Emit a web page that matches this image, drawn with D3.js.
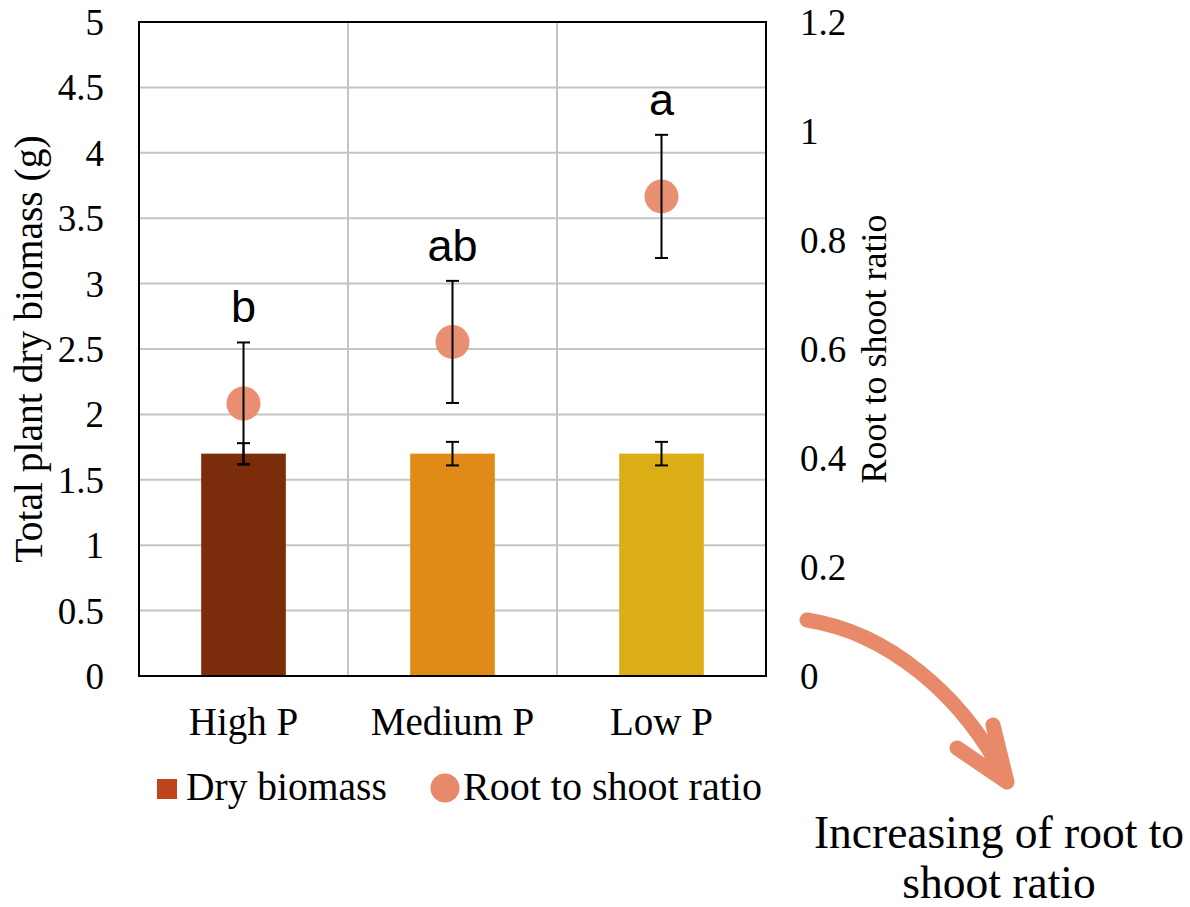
<!DOCTYPE html>
<html>
<head>
<meta charset="utf-8">
<script src="https://cdn.jsdelivr.net/npm/d3@7"></script>
<style>
  body { margin: 0; background: #fff; }
  svg text { fill: #000; }
</style>
</head>
<body>
<div id="graphic"></div>
<script>
// data
const categories = ["High P", "Medium P", "Low P"];
const biomass = [1.7, 1.7, 1.7];
const biomassErr = [0.08, 0.09, 0.09];
const ratio = [0.50, 0.613, 0.88];
const ratioErr = [0.112, 0.112, 0.113];
const letters = ["b", "ab", "a"];
const leftTicks = [0, 0.5, 1, 1.5, 2, 2.5, 3, 3.5, 4, 4.5, 5];
const rightTicks = [0, 0.2, 0.4, 0.6, 0.8, 1, 1.2];
const barColors = ["#7b2d0b", "#e08b17", "#dbae16"];

// set the dimensions and margins of the graph
const margin = {top: 22, right: 424, bottom: 231, left: 139};
const width = 1190 - margin.left - margin.right;
const height = 907 - margin.top - margin.bottom;

const serif = "'Liberation Serif', 'Times New Roman', serif";
const sans = "'Liberation Sans', Arial, sans-serif";
const dotColor = "#e8896a";

const svg = d3.select("#graphic")
    .append("svg")
    .attr("width", 1190)
    .attr("height", 907)
    .append("g")
        .attr("transform", `translate(${margin.left}, ${margin.top})`);

const x = d3.scaleBand().domain(categories).range([0, width]).padding(0);
const bw = x.bandwidth() * 0.405;
const y = d3.scaleLinear().domain([0, 5]).range([height, 0]);
const yR = d3.scaleLinear().domain([0, 1.2]).range([height, 0]);

// gridlines
svg.append("g")
    .selectAll("line")
    .data(leftTicks.slice(1))
    .join("line")
    .attr("x1", 0).attr("x2", width)
    .attr("y1", d => y(d)).attr("y2", d => y(d))
    .style("stroke", "#c4c4c4")
    .attr("stroke-width", 2);

svg.append("g")
    .selectAll("line")
    .data(categories.slice(1))
    .join("line")
    .attr("x1", d => x(d)).attr("x2", d => x(d))
    .attr("y1", 0).attr("y2", height)
    .style("stroke", "#c4c4c4")
    .attr("stroke-width", 2);

// left axis labels
const leftAxis = svg.append("g")
    .call(d3.axisLeft(y).tickValues(leftTicks).tickSize(0).tickPadding(35).tickFormat(d3.format("")));
leftAxis.select(".domain").remove();
leftAxis.selectAll("text")
    .style("font-family", serif)
    .style("font-size", "37px")
    .attr("dy", "0.34em");

// right axis labels
const rightAxis = svg.append("g")
    .attr("transform", `translate(${width}, 0)`)
    .call(d3.axisRight(yR).tickValues(rightTicks).tickSize(0).tickPadding(34).tickFormat(d3.format("")));
rightAxis.select(".domain").remove();
rightAxis.selectAll("text")
    .style("font-family", serif)
    .style("font-size", "37px")
    .attr("dy", "0.34em");

// category labels
const bottomAxis = svg.append("g")
    .attr("transform", `translate(0, ${height})`)
    .call(d3.axisBottom(x).tickSize(0).tickPadding(31));
bottomAxis.select(".domain").remove();
bottomAxis.selectAll("text")
    .style("font-family", serif)
    .style("font-size", "39px")
    .attr("dy", "0.71em");

// bars
svg.append("g")
    .selectAll("rect")
    .data(categories)
    .join("rect")
    .attr("x", d => x(d) + (x.bandwidth() - bw) / 2)
    .attr("width", bw)
    .attr("y", (d, i) => y(biomass[i]))
    .attr("height", (d, i) => height - y(biomass[i]))
    .attr("fill", (d, i) => barColors[i]);

// error bars helper
function errorBars(vals, errs, scale) {
    const g = svg.append("g");
    categories.forEach(function(c, i) {
        const cx = x(c) + x.bandwidth() / 2;
        const top = scale(vals[i] + errs[i]);
        const bot = scale(vals[i] - errs[i]);
        g.append("line").attr("x1", cx).attr("x2", cx).attr("y1", top).attr("y2", bot);
        g.append("line").attr("x1", cx - 6.5).attr("x2", cx + 6.5).attr("y1", top).attr("y2", top);
        g.append("line").attr("x1", cx - 6.5).attr("x2", cx + 6.5).attr("y1", bot).attr("y2", bot);
    });
    g.selectAll("line").style("stroke", "#000").attr("stroke-width", 2);
}

errorBars(biomass, biomassErr, y);

// root to shoot points
svg.append("g")
    .selectAll("circle")
    .data(categories)
    .join("circle")
    .attr("cx", d => x(d) + x.bandwidth() / 2)
    .attr("cy", (d, i) => yR(ratio[i]))
    .attr("r", 17)
    .attr("fill", dotColor)
    .attr("fill-opacity", 0.95);

errorBars(ratio, ratioErr, yR);

// significance letters
svg.append("g")
    .selectAll("text")
    .data(categories)
    .join("text")
    .attr("x", d => x(d) + x.bandwidth() / 2)
    .attr("y", (d, i) => yR(ratio[i] + ratioErr[i]) - 20)
    .attr("text-anchor", "middle")
    .style("font-family", sans)
    .style("font-size", "45px")
    .text((d, i) => letters[i]);

// plot frame
svg.append("rect")
    .attr("width", width)
    .attr("height", height)
    .attr("fill", "none")
    .style("stroke", "#000")
    .attr("stroke-width", 2);

// axis titles
svg.append("text")
    .attr("transform", `translate(-111, ${height / 2}) rotate(-90)`)
    .attr("text-anchor", "middle")
    .attr("dy", "0.35em")
    .style("font-family", serif)
    .style("font-size", "39.5px")
    .text("Total plant dry biomass (g)");

svg.append("text")
    .attr("transform", `translate(${width + 107}, ${height / 2}) rotate(-90)`)
    .attr("text-anchor", "middle")
    .attr("dy", "0.35em")
    .style("font-family", serif)
    .style("font-size", "36px")
    .text("Root to shoot ratio");

// legend
const legend = svg.append("g").attr("transform", `translate(0, ${height})`);
legend.append("rect")
    .attr("x", 18).attr("y", 103).attr("width", 20).attr("height", 20)
    .attr("fill", "#c0441c");
legend.append("text")
    .attr("x", 47).attr("y", 124)
    .style("font-family", serif).style("font-size", "39.5px")
    .text("Dry biomass");
legend.append("circle")
    .attr("cx", 306).attr("cy", 112).attr("r", 14.5)
    .attr("fill", dotColor);
legend.append("text")
    .attr("x", 324).attr("y", 124)
    .style("font-family", serif).style("font-size", "40px")
    .text("Root to shoot ratio");

// annotation arrow
const note = svg.append("g").attr("transform", `translate(${-margin.left}, ${-margin.top})`);
note.append("path")
    .attr("d", "M807,620 C885,632 962,692 1007,782 M957,748 L1007,782 L993,725")
    .attr("fill", "none")
    .style("stroke", "#e8896a")
    .attr("stroke-width", 15)
    .attr("stroke-linecap", "round")
    .attr("stroke-linejoin", "round");

note.append("text")
    .attr("x", 999).attr("y", 848)
    .attr("text-anchor", "middle")
    .style("font-family", serif).style("font-size", "45.5px")
    .text("Increasing of root to");
note.append("text")
    .attr("x", 999).attr("y", 898)
    .attr("text-anchor", "middle")
    .style("font-family", serif).style("font-size", "45.5px")
    .text("shoot ratio");
</script>
</body>
</html>
